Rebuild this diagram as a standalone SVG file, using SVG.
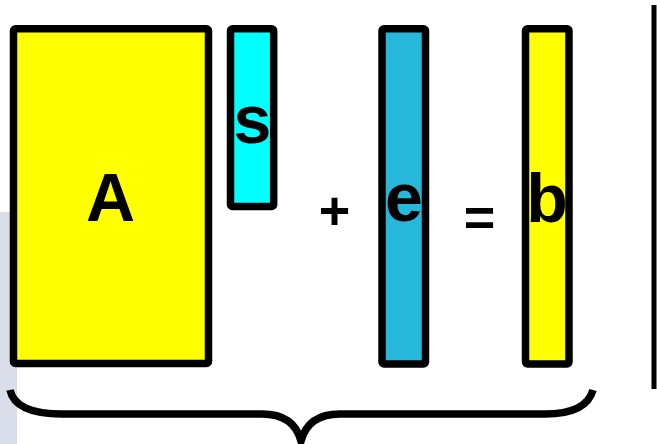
<svg xmlns="http://www.w3.org/2000/svg" width="657" height="444" viewBox="0 0 657 444">
<style>
.box{stroke:#000;stroke-width:7.5;stroke-linejoin:round}
.lbl{font-family:"Liberation Sans",Arial,sans-serif;font-weight:bold;font-size:68px;fill:#000;text-anchor:middle}
.op{font-family:"Liberation Sans",Arial,sans-serif;font-weight:bold;font-size:54px;fill:#000;text-anchor:middle}
</style>
<rect x="0" y="212" width="17" height="232" fill="#d8dde9"/>
<g id="A">
<rect class="box" x="13.5" y="28.8" width="195" height="334.7" rx="2" fill="#ffff00"/>
<text class="lbl" x="110.5" y="221">A</text>
</g>
<g id="s">
<rect class="box" x="230.5" y="28.8" width="43.2" height="177.7" rx="2" fill="#00ffff"/>
<text class="lbl" x="252.5" y="143">s</text>
</g>
<g id="plus">
<text class="op" x="334.5" y="229">+</text>
</g>
<g id="e">
<rect class="box" x="382" y="28.8" width="43.5" height="335.2" rx="2" fill="#25b8db"/>
<text class="lbl" x="404" y="221">e</text>
</g>
<g id="equals">
<text class="op" x="479.5" y="236">=</text>
</g>
<g id="b">
<rect class="box" x="525.5" y="28.8" width="43.5" height="335.2" rx="2" fill="#ffff00"/>
<text class="lbl" x="547" y="221.5">b</text>
</g>
<g id="connectors" fill="none" stroke="#000">
<line x1="654" y1="5" x2="654" y2="389" stroke-width="5"/>
<path d="M10,390 C14,408 35,414 62,414 L262,414 C282,414 296,422 301,441 C306,422 320,414 340,414 L545,414 C570,414 588,408 593,390" stroke-width="7.5"/>
</g>
</svg>
